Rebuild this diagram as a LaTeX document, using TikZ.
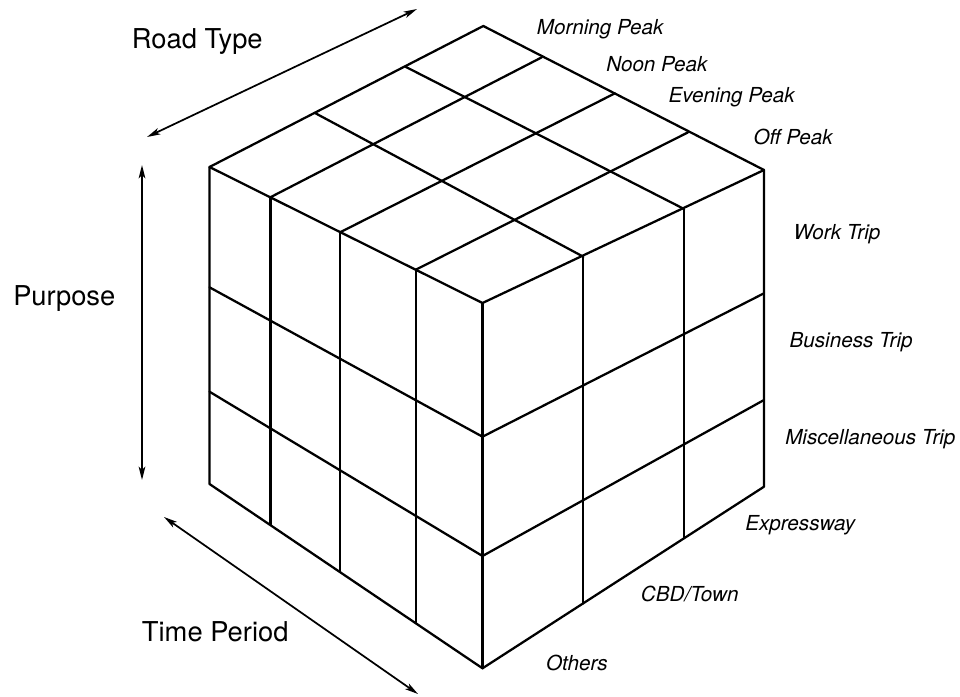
\documentclass[tikz,border=0pt]{standalone}
\usepackage{fontspec}
\setmainfont{TeX Gyre Heros}
\usetikzlibrary{arrows.meta}
\begin{document}
\begin{tikzpicture}[x=0.75pt,y=-0.75pt,
  cube/.style={line width=1.7pt, line join=round, line cap=round},
  axisarrow/.style={line width=1.3pt, {Stealth[length=10pt,width=5pt,inset=2.5pt]}-{Stealth[length=10pt,width=5pt,inset=2.5pt]}},
  axislabel/.style={font=\fontsize{20.5}{24}\selectfont, inner sep=0pt, anchor=base west},
  catlabel/.style={font=\fontsize{15.5}{18}\selectfont\itshape, inner sep=0pt, anchor=base west}]
\useasboundingbox (0,0) rectangle (960,696);

% cube corners
\coordinate (B)  at (483.3,26);
\coordinate (L)  at (209.5,167);
\coordinate (R)  at (764,170);
\coordinate (F)  at (482.5,303);
\coordinate (Lb) at (209.5,484);
\coordinate (Rb) at (764,486.7);
\coordinate (Fb) at (482.5,668.3);
% top face division points
\coordinate (t1) at (541.8,57.3);
\coordinate (t2) at (615,93.3);
\coordinate (t3) at (688.1,132.3);
\coordinate (f1) at (270.5,197.2);
\coordinate (f2) at (340.1,232.3);
\coordinate (f3) at (416.2,269.5);
\coordinate (r1) at (405.4,66.7);
\coordinate (r2) at (314.4,112.7);
\coordinate (s1) at (684.1,209);
\coordinate (s2) at (583.3,256.7);
% left face
\coordinate (f1b) at (270.5,524.5);
\coordinate (f2b) at (340.1,571.5);
\coordinate (f3b) at (416.2,622.8);
\coordinate (l1) at (209.5,287.3);
\coordinate (l2) at (209.5,391.7);
\coordinate (m1) at (482.5,436.7);
\coordinate (m2) at (482.5,556);
% right face
\coordinate (s1b) at (684.1,538);
\coordinate (s2b) at (583.3,603.5);
\coordinate (q1) at (764,293.3);
\coordinate (q2) at (764,400);

% outline
\draw[cube] (B) -- (R) -- (F) -- (L) -- cycle;
\draw[cube] (L) -- (Lb) -- (Fb) -- (Rb) -- (R);
\draw[cube] (F) -- (Fb);
% top grid
\draw[cube] (f1) -- (t1) (f2) -- (t2) (f3) -- (t3);
\draw[cube] (r1) -- (s1) (r2) -- (s2);
% left face grid
\draw[cube] (f1) -- (f1b) (f2) -- (f2b) (f3) -- (f3b);
\draw[cube] (l1) -- (m1) (l2) -- (m2);
% right face grid
\draw[cube] (s1) -- (s1b) (s2) -- (s2b);
\draw[cube] (m1) -- (q1) (m2) -- (q2);

% axis arrows
\coordinate (rtA) at (417,9);
\coordinate (rtB) at (147,137);
\coordinate (puA) at (142,165);
\coordinate (puB) at (142,480);
\coordinate (tpA) at (164,517);
\coordinate (tpB) at (418,694);
\draw[axisarrow] (rtB) -- (rtA);
\draw[axisarrow] (puA) -- (puB);
\draw[axisarrow] (tpA) -- (tpB);

% axis labels
\node[axislabel] (roadtype) at (131.7,48.5) {Road Type};
\node[axislabel] (purpose) at (13,305.5) {Purpose};
\node[axislabel] (timeperiod) at (141.7,641.7) {Time Period};

% category labels
\node[catlabel] (mp) at (536.7,34) {Morning Peak};
\node[catlabel] (np) at (606,71.7) {Noon Peak};
\node[catlabel] (ep) at (668.3,102.4) {Evening Peak};
\node[catlabel] (op) at (753.3,144) {Off Peak};
\node[catlabel] (wt) at (793.3,239) {Work Trip};
\node[catlabel] (bt) at (789.3,347.4) {Business Trip};
\node[catlabel] (mt) at (785,444) {Miscellaneous Trip};
\node[catlabel] (ex) at (745,530.7) {Expressway};
\node[catlabel] (cbd) at (640.7,601) {CBD/Town};
\node[catlabel] (ot) at (545.8,670) {Others};
\end{tikzpicture}
\end{document}
